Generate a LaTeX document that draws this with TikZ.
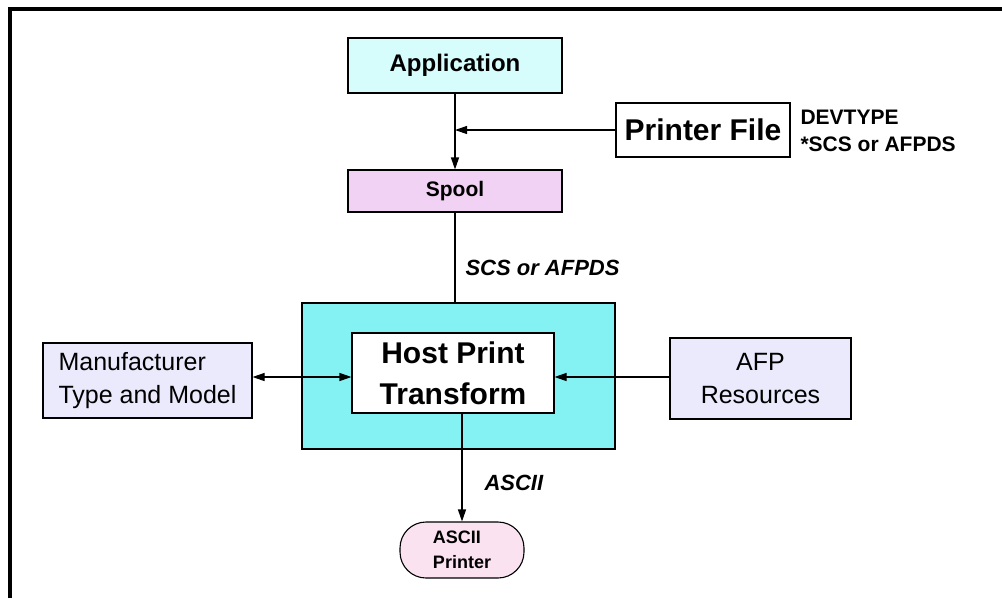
\documentclass[tikz,border=0pt]{standalone}
\usepackage{fontspec}
\setmainfont{Liberation Sans}
\usetikzlibrary{arrows.meta}
\usetikzlibrary{positioning}

\definecolor{appcyan}{HTML}{D6FCFC}
\definecolor{spoolpink}{HTML}{F2D2F4}
\definecolor{hostcyan}{HTML}{84F2F2}
\definecolor{reslav}{HTML}{EAEAFC}
\definecolor{prtpink}{HTML}{FBE2F0}

\tikzset{
	box/.style={draw, line width=1.1pt, inner sep=0pt},
	conn/.style={line width=1.1pt},
	tip/.style={-{Triangle[length=12pt,width=8pt]}},
}

\begin{document}
\begin{tikzpicture}[x=1pt, y=-1pt]
		\useasboundingbox (0,0) rectangle (1002,598);
		\draw[line width=4pt] (10,598) -- (10,9) -- (1002,9);
		\node[box, fill=appcyan, minimum width=214pt, minimum height=55pt, font=\fontsize{24}{28}\selectfont\bfseries] (app) at (455,65.5) {Application};
		\node[box, minimum width=174pt, minimum height=54pt, font=\fontsize{30}{34}\selectfont\bfseries] (prtfile) at (703,130) {Printer File};
		\node[right, align=left, font=\fontsize{21}{27}\selectfont\bfseries] (devtype) at (797,131) {DEVTYPE\\*SCS or AFPDS};
		\node[box, fill=spoolpink, minimum width=214pt, minimum height=42pt, font=\fontsize{21}{25}\selectfont\bfseries] (spool) at (455,191) {Spool};
		\node[box, fill=hostcyan, minimum width=313pt, minimum height=146pt] (hostarea) at (458.5,376) {};
		\node[box, fill=white, minimum width=202pt, minimum height=80pt, align=center, font=\fontsize{30}{41}\selectfont\bfseries] (hpt) at (453,373) {Host Print\\Transform};
		\node[box, fill=reslav, minimum width=209pt, minimum height=75pt, align=left, font=\fontsize{25}{33}\selectfont] (mfr) at (147.5,380.5) {Manufacturer\\Type and Model};
		\node[box, fill=reslav, minimum width=181pt, minimum height=81pt, align=center, font=\fontsize{25}{33}\selectfont] (afp) at (760.5,378.5) {AFP\\Resources};
		\node[box, fill=prtpink, rounded corners=26pt, minimum width=124pt, minimum height=56pt, align=left, font=\fontsize{18}{25}\selectfont\bfseries] (asciiprt) at (462,550) {ASCII\\Printer};
		\node[right, font=\fontsize{22}{26}\selectfont\bfseries\itshape] (scslbl) at (462,268) {SCS or AFPDS};
		\node[right, font=\fontsize{22}{26}\selectfont\bfseries\itshape] (asciilbl) at (481,483) {ASCII};
		\draw[conn, tip] (app.south) -- (spool.north);
		\draw[conn, tip] (prtfile.west) -- (prtfile.west -| app.south);
		\draw[conn] (spool.south) -- (spool.south |- hostarea.north);
		\draw[conn, tip] (asciiprt.north |- hpt.south) -- (asciiprt.north);
		\draw[conn, {Triangle[length=12pt,width=8pt]}-{Triangle[length=12pt,width=8pt]}] ([yshift=-4pt]mfr.east |- hpt.west) -- ([yshift=-4pt]hpt.west);
		\draw[conn, tip] ([yshift=-4pt]afp.west |- hpt.east) -- ([yshift=-4pt]hpt.east);
	\end{tikzpicture}
\end{document}
